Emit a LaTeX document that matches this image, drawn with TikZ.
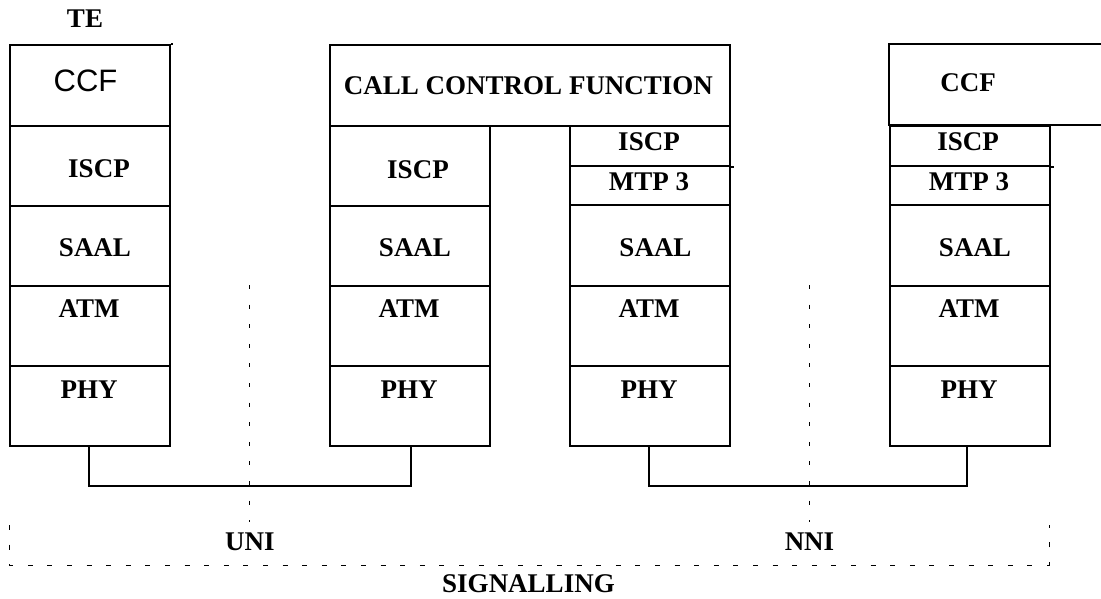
\documentclass[tikz,border=0pt]{standalone}
\usepackage{fontspec}
\setmainfont{Liberation Serif}
\newfontfamily\ccfsans{Liberation Sans}
\begin{document}
\begin{tikzpicture}[x=1pt,y=-1pt,
  cell/.style={draw,line width=1.8pt,minimum width=160pt,inner sep=0pt,anchor=north west},
  lbl/.style={font=\fontsize{27}{30}\selectfont\bfseries,inner sep=0pt},
  wire/.style={line width=1.8pt},
  iface/.style={line width=1pt,dash pattern=on 4pt off 15.6pt},
  frame/.style={line width=1pt,dash pattern=on 5pt off 14.6pt}]
\useasboundingbox (0,0) rectangle (1101,598);

% terminal equipment stack
\node[cell,minimum height=81pt] (ccfA) at (9,44) {};
\node[cell,minimum height=80pt] (iscpA) at (9,125) {};
\node[cell,minimum height=80pt] (saalA) at (9,205) {};
\node[cell,minimum height=80pt] (atmA) at (9,285) {};
\node[cell,minimum height=80pt] (phyA) at (9,365) {};
\draw[line width=1.8pt] (ccfA.north east) -- ++(2,0);

% exchange: call control over two stacks
\node[cell,minimum width=400pt,minimum height=81pt] (cc) at (329,44) {};
\node[cell,minimum height=80pt] (iscpB) at (329,125) {};
\node[cell,minimum height=80pt] (saalB) at (329,205) {};
\node[cell,minimum height=80pt] (atmB) at (329,285) {};
\node[cell,minimum height=80pt] (phyB) at (329,365) {};
\node[cell,minimum height=40pt] (iscpC) at (569,125) {};
\node[cell,minimum height=39pt] (mtpC) at (569,165) {};
\node[cell,minimum height=81pt] (saalC) at (569,204) {};
\node[cell,minimum height=80pt] (atmC) at (569,285) {};
\node[cell,minimum height=80pt] (phyC) at (569,365) {};
\draw[line width=1.8pt] (iscpC.south east) -- ++(3,0);

% far exchange stack
\coordinate (ccfDtr) at (1103,44);
\coordinate (ccfDbr) at (1103,125);
\draw[wire] (ccfDtr) -- (889,44) -- (889,125) -- (ccfDbr);
\node[cell,minimum height=40pt] (iscpD) at (889,125) {};
\node[cell,minimum height=39pt] (mtpD) at (889,165) {};
\node[cell,minimum height=81pt] (saalD) at (889,204) {};
\node[cell,minimum height=80pt] (atmD) at (889,285) {};
\node[cell,minimum height=80pt] (phyD) at (889,365) {};
\draw[line width=1.8pt] (iscpD.south east) -- ++(3,0);

% labels
\node[lbl] (te) at (85,19) {TE};
\node[font=\ccfsans\fontsize{31}{34}\selectfont,inner sep=0pt] (tccf) at (85.5,81) {CCF};
\node[lbl] (tiscpA) at (99,169) {ISCP};
\node[lbl] (tsaalA) at (95,247.5) {SAAL};
\node[lbl] (tatmA) at (89,309) {ATM};
\node[lbl] (tphyA) at (89,390) {PHY};

\node[lbl] (tcc) at (528.5,86) {CALL CONTROL FUNCTION};
\node[lbl] (tiscpB) at (418,170) {ISCP};
\node[lbl] (tsaalB) at (415,247.5) {SAAL};
\node[lbl] (tatmB) at (409,309) {ATM};
\node[lbl] (tphyB) at (409,390) {PHY};

\node[lbl] (tiscpC) at (649,142) {ISCP};
\node[lbl] (tmtpC) at (649,182) {MTP 3};
\node[lbl] (tsaalC) at (655.5,247.5) {SAAL};
\node[lbl] (tatmC) at (649,309) {ATM};
\node[lbl] (tphyC) at (649,390) {PHY};

\node[lbl] (tccfD) at (968,83) {CCF};
\node[lbl] (tiscpD) at (968,142) {ISCP};
\node[lbl] (tmtpD) at (969,182) {MTP 3};
\node[lbl] (tsaalD) at (975,247.5) {SAAL};
\node[lbl] (tatmD) at (969,309) {ATM};
\node[lbl] (tphyD) at (969,390) {PHY};

% physical links between stacks
\draw[wire] ([xshift=80pt]phyA.south west) -- ++(0,39) -| ([xshift=82pt]phyB.south west);
\draw[wire] ([xshift=80pt]phyC.south west) -- ++(0,39) -| ([xshift=78pt]phyD.south west);

% interface boundaries
\coordinate (uniTop) at (249,285);
\coordinate (uniBot) at (249,522);
\coordinate (nniTop) at (809,285);
\coordinate (nniBot) at (809,522);
\draw[iface] (uniTop) -- (uniBot);
\draw[iface] (nniTop) -- (nniBot);
\node[lbl] (uni) at (250,542) {UNI};
\node[lbl] (nni) at (809.5,541.5) {NNI};

% signalling bracket
\coordinate (sigTL) at (9,525);
\coordinate (sigTR) at (1049,525);
\draw[frame] (sigTL) -- (9,565) -- (1049,565) -- (sigTR);
\node[lbl] (sig) at (528.5,584) {SIGNALLING};
\end{tikzpicture}
\end{document}
